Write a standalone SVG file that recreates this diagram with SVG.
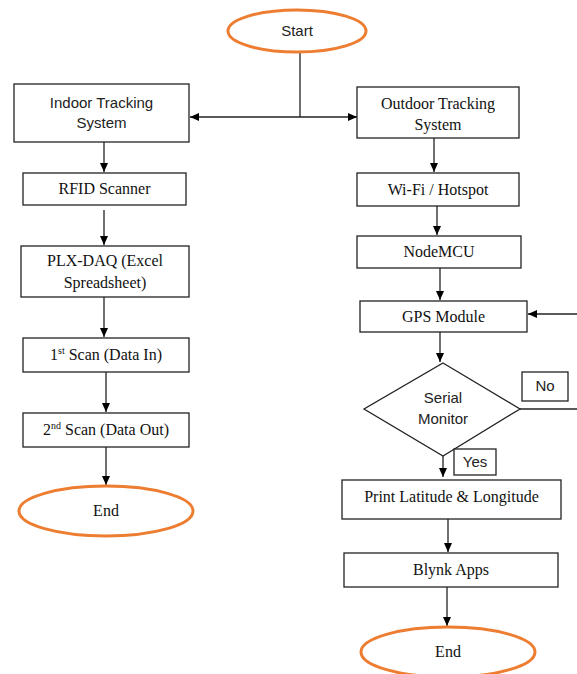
<svg xmlns="http://www.w3.org/2000/svg" width="577" height="674" viewBox="0 0 577 674">
<defs>
<marker id="ah" markerUnits="userSpaceOnUse" markerWidth="10" markerHeight="8" refX="9" refY="4" orient="auto">
<path d="M0,0 L9,4 L0,8 Z" fill="#000"/>
</marker>
<style>
.box{fill:#fff;stroke:#222;stroke-width:1.3}
.term{fill:#fff;stroke:#ED7D31;stroke-width:3}
.serif{font-family:"Liberation Serif","Times New Roman",serif;font-size:16px;fill:#111;text-anchor:middle}
.sans{font-family:"Liberation Sans",Arial,sans-serif;font-size:15px;fill:#222;text-anchor:middle}
.sup{font-size:10px}
.conn path{fill:none;stroke:#222;stroke-width:1.3}
.arr{marker-end:url(#ah)}
</style>
</defs>
<rect width="577" height="674" fill="#fff"/>
<g class="conn" id="connectors">
<path d="M300 53 V117"/>
<path class="arr" d="M300 117 H190"/>
<path class="arr" d="M300 117 H357"/>
<path class="arr" d="M104 142 V172"/>
<path class="arr" d="M104 210 V245"/>
<path class="arr" d="M104 297 V337"/>
<path class="arr" d="M106 372 V412"/>
<path class="arr" d="M106 447 V485"/>
<path class="arr" d="M434 138 V172"/>
<path class="arr" d="M437 206 V235"/>
<path class="arr" d="M440 268 V300"/>
<path class="arr" d="M440 332 V362"/>
<path class="arr" d="M577 314 H528"/>
<path d="M520 409 H577"/>
<path class="arr" d="M443 456 V477"/>
<path class="arr" d="M448 519 V552"/>
<path class="arr" d="M447 587 V626"/>
</g>
<g id="start">
<ellipse class="term" cx="297" cy="31" rx="69" ry="21"/>
<text class="sans" x="297" y="36">Start</text>
</g>
<g id="indoor">
<rect class="box" x="14" y="84" width="175" height="58"/>
<text class="sans" x="101.5" y="108">Indoor Tracking</text>
<text class="sans" x="101.5" y="128">System</text>
</g>
<g id="outdoor">
<rect class="box" x="357" y="87" width="162" height="51"/>
<text class="serif" x="438" y="109">Outdoor Tracking</text>
<text class="serif" x="438" y="130">System</text>
</g>
<g id="rfid">
<rect class="box" x="23" y="173" width="163" height="32"/>
<text class="serif" x="104.5" y="194">RFID Scanner</text>
</g>
<g id="plx">
<rect class="box" x="21" y="246" width="168" height="51"/>
<text class="serif" x="105" y="266">PLX-DAQ (Excel</text>
<text class="serif" x="105" y="288">Spreadsheet)</text>
</g>
<g id="scan1">
<rect class="box" x="23" y="338" width="166" height="34"/>
<text class="serif" x="106" y="360">1<tspan class="sup" dy="-6">st</tspan><tspan dy="6"> Scan (Data In)</tspan></text>
</g>
<g id="scan2">
<rect class="box" x="23" y="413" width="166" height="34"/>
<text class="serif" x="106" y="435">2<tspan class="sup" dy="-6">nd</tspan><tspan dy="6"> Scan (Data Out)</tspan></text>
</g>
<g id="end1">
<ellipse class="term" cx="106" cy="511" rx="87" ry="25"/>
<text class="serif" x="106" y="516">End</text>
</g>
<g id="wifi">
<rect class="box" x="357" y="173" width="162" height="33"/>
<text class="serif" x="438" y="195">Wi-Fi / Hotspot</text>
</g>
<g id="nodemcu">
<rect class="box" x="357" y="236" width="164" height="32"/>
<text class="serif" x="439" y="257">NodeMCU</text>
</g>
<g id="gps">
<rect class="box" x="360" y="301" width="167" height="31"/>
<text class="serif" x="443.5" y="322">GPS Module</text>
</g>
<g id="serial">
<polygon class="box" points="443,363 520,409 443,456 364,409"/>
<text class="sans" x="443" y="403">Serial</text>
<text class="sans" x="443" y="424">Monitor</text>
</g>
<g id="no">
<rect class="box" x="522" y="372" width="46" height="29"/>
<text class="sans" x="545" y="391">No</text>
</g>
<g id="yes">
<rect class="box" x="454" y="449" width="42" height="26"/>
<text class="sans" x="475" y="467">Yes</text>
</g>
<g id="print">
<rect class="box" x="342" y="480" width="219" height="39"/>
<text class="serif" x="451.5" y="502">Print Latitude &amp; Longitude</text>
</g>
<g id="blynk">
<rect class="box" x="344" y="553" width="214" height="34"/>
<text class="serif" x="451" y="575">Blynk Apps</text>
</g>
<g id="end2">
<ellipse class="term" cx="448" cy="652" rx="87" ry="25"/>
<text class="serif" x="448" y="657">End</text>
</g>
</svg>
